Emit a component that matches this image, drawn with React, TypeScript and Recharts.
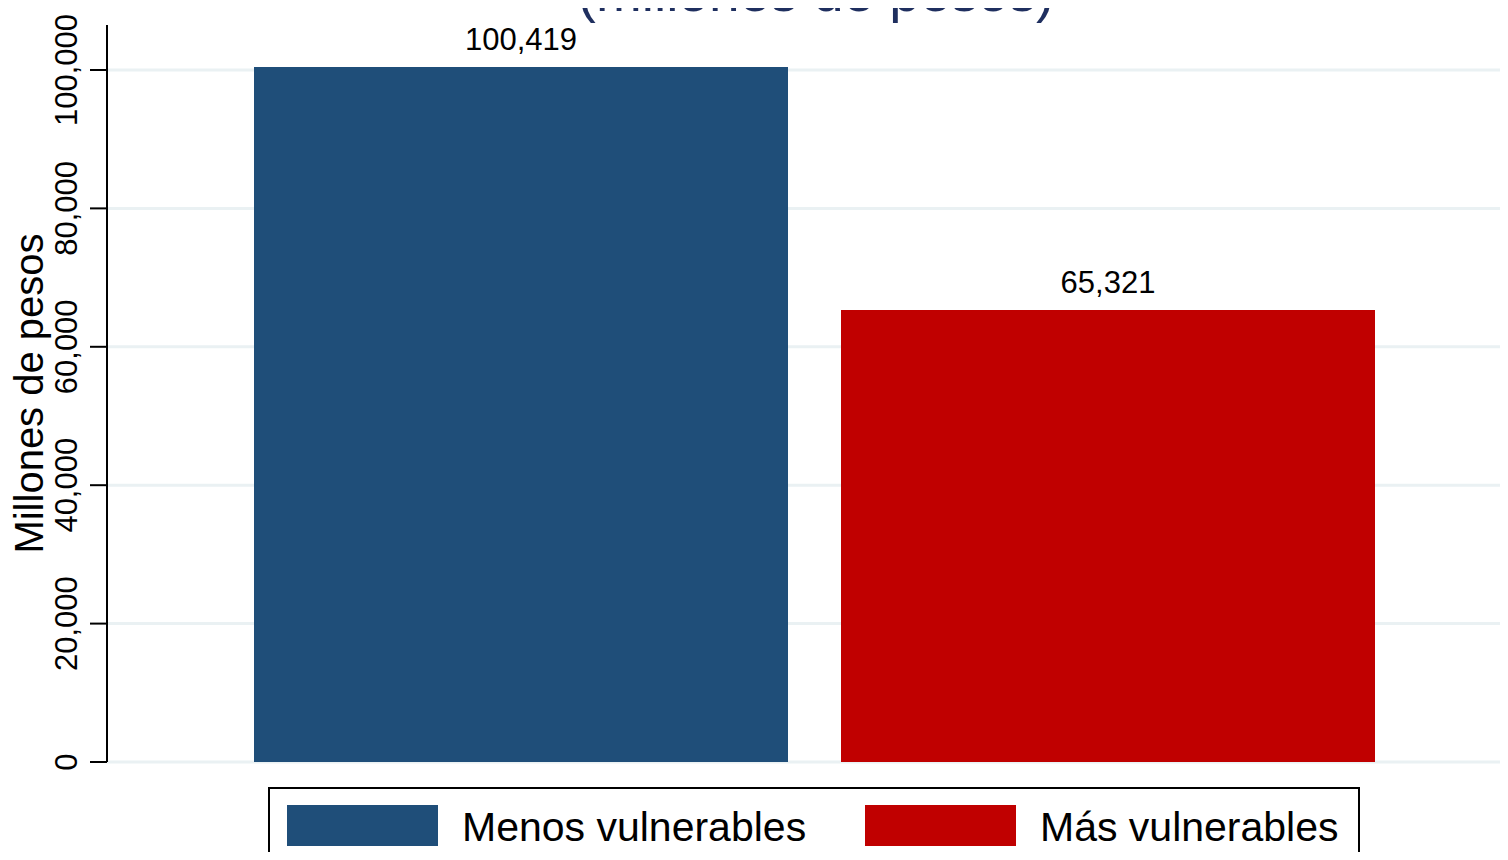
import React from 'react';
import { BarChart, Bar, XAxis, YAxis, CartesianGrid, LabelList, Legend, Label } from 'recharts';

// datos del gráfico
const groups = ['Total'];
const seriesNames = ['Menos vulnerables', 'Más vulnerables'];
const seriesValues = [100419, 65321];
const seriesColors = ['#1F4E79', '#C00000'];
const yTicks = [0, 20000, 40000, 60000, 80000, 100000];
const yMax = 106500;
const title = '(millones de pesos)';
const yTitle = 'Millones de pesos';

const data = groups.map((g) => ({ name: g, s0: seriesValues[0], s1: seriesValues[1] }));

const FONT = '"Liberation Sans", Arial, Helvetica, sans-serif';
const fmt = (v: any) => Number(v).toLocaleString('en-US');

const YTick = (props: any) => {
  const { x, y, payload } = props;
  return (
    <text x={x} y={y} transform={`rotate(-90, ${x}, ${y})`} textAnchor="middle" fontSize={31} fill="#000" fontFamily={FONT}>
      {fmt(payload.value)}
    </text>
  );
};

const YTitle = (props: any) => {
  const vb = props.viewBox || { x: 0, y: 0, width: 0, height: 0 };
  const cx = vb.x + 43;
  const cy = vb.y + vb.height / 2;
  return (
    <text x={cx} y={cy} transform={`rotate(-90, ${cx}, ${cy})`} textAnchor="middle" fontSize={40} fill="#000" fontFamily={FONT}>
      {yTitle}
    </text>
  );
};

const LegendBox = (props: any) => {
  const items = props.payload || [];
  return (
    <div style={{ position: 'relative', width: 1092, height: 78, border: '2px solid #000', boxSizing: 'border-box', background: '#fff' }}>
      {items.map((it: any, i: number) => (
        <div key={i} style={{ position: 'absolute', left: 17 + i * 578, top: 16, display: 'flex', alignItems: 'center' }}>
          <div style={{ width: 151, height: 41, background: it.color }} />
          <span style={{ marginLeft: 24, fontSize: 41, lineHeight: '41px', fontFamily: FONT, color: '#000', whiteSpace: 'nowrap', position: 'relative', top: 2 }}>
            {it.value}
          </span>
        </div>
      ))}
    </div>
  );
};

export default function App() {
  return (
    <div style={{ position: 'relative', width: 1508, height: 860, overflow: 'hidden', margin: -8, background: '#fff' }}>
      <BarChart width={1530} height={860} data={data} margin={{ top: 25, right: 8, left: 0, bottom: 98 }} barSize={534} barGap={53}>
        <CartesianGrid vertical={false} syncWithTicks stroke="#EAF1F3" strokeWidth={3} />
        <XAxis dataKey="name" tick={false} tickLine={false} height={0} axisLine={{ stroke: '#000', strokeWidth: 2 }} />
        <YAxis
          width={107}
          domain={[0, yMax]}
          ticks={yTicks}
          interval={0}
          tick={<YTick />}
          tickSize={17}
          tickMargin={13}
          tickLine={{ stroke: '#000', strokeWidth: 2 }}
          axisLine={{ stroke: '#000', strokeWidth: 2 }}
        >
          <Label content={<YTitle />} />
        </YAxis>
        <Legend
          layout="horizontal"
          verticalAlign="middle"
          align="center"
          content={<LegendBox />}
          wrapperStyle={{ top: 787, left: 268, width: 1092 }}
        />
        <Bar dataKey="s0" name={seriesNames[0]} fill={seriesColors[0]} isAnimationActive={false}>
          <LabelList dataKey="s0" position="top" offset={17} formatter={fmt} fontSize={31} fill="#000" fontFamily={FONT} />
        </Bar>
        <Bar dataKey="s1" name={seriesNames[1]} fill={seriesColors[1]} isAnimationActive={false}>
          <LabelList dataKey="s1" position="top" offset={17} formatter={fmt} fontSize={31} fill="#000" fontFamily={FONT} />
        </Bar>
      </BarChart>
      <div
        style={{
          position: 'absolute',
          left: 816,
          top: -34.6,
          transform: 'translateX(-50%)',
          fontSize: 55,
          lineHeight: '55px',
          fontFamily: FONT,
          color: '#1F2F5F',
          whiteSpace: 'nowrap',
        }}
      >
        {title}
      </div>
    </div>
  );
}
